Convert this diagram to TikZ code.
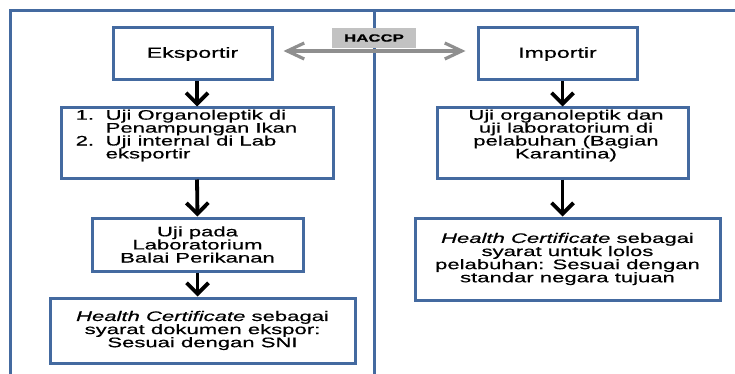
\documentclass[tikz,border=0pt]{standalone}
\usepackage{fontspec}
\setmainfont{Liberation Sans}
\newfontfamily\widefont[FakeStretch=1.6,FakeBold=0.5]{Liberation Sans}
\usetikzlibrary{arrows.meta}
\definecolor{frameblue}{RGB}{68,106,160}
\definecolor{arrowgray}{RGB}{143,143,143}
\definecolor{labelgray}{RGB}{194,194,194}
\newcommand{\tightlines}{\lineskiplimit=-6pt\relax}
\begin{document}
\begin{tikzpicture}[x=1pt,y=-1pt,
  stepbox/.style={draw=frameblue, line width=3pt, fill=white, inner sep=0pt,
    font=\widefont\fontsize{13.8}{13.1}\selectfont\tightlines, align=center},
  bodytext/.style={font=\widefont\fontsize{13.8}{12.9}\selectfont\tightlines, inner sep=0pt},
  flow/.style={line width=3.8pt, black, -{Straight Barb[length=11pt,width=22pt]}},
  twoway/.style={line width=3.2pt, arrowgray,
    {Straight Barb[length=17pt,width=16pt]}-{Straight Barb[length=17pt,width=16pt]}},
  frame/.style={draw=frameblue, line width=3pt}
]
\useasboundingbox (0,0) rectangle (735,374);
% outer frame and divider
\draw[frame] (10.5,374) -- (10.5,11) -- (735,11);
\draw[frame] (374,11) -- (374,374);

% left column
\node[stepbox, minimum width=159pt, minimum height=52pt, font=\widefont\fontsize{14.5}{13}\selectfont] (eks) at (192.5,54) {Eksportir};
\node[stepbox, minimum width=272pt, minimum height=70pt] (l2) at (197,143) {};
\node[bodytext, align=left, anchor=north west] (l2t) at ([xshift=16pt,yshift=-3pt]l2.north west)
  {\makebox[30pt][l]{1.}Uji Organoleptik di\\
   \hspace*{30pt}Penampungan Ikan\\
   \makebox[30pt][l]{2.}Uji internal di Lab\\
   \hspace*{30pt}eksportir};
\node[stepbox, minimum width=211pt, minimum height=53pt] (l3) at (197.5,244.5)
  {Uji pada\\Laboratorium\\Balai Perikanan};
\node[stepbox, minimum width=305pt, minimum height=65pt] (l4) at (202.5,330.5)
  {\textit{Health Certificate} sebagai\\syarat dokumen ekspor:\\Sesuai dengan SNI};

% right column
\node[stepbox, minimum width=159pt, minimum height=52pt, font=\widefont\fontsize{14.5}{13}\selectfont] (imp) at (557.5,54) {Importir};
\node[stepbox, minimum width=251pt, minimum height=70pt] (r2) at (562.5,143) {};
\node[bodytext, align=center, anchor=north] (r2t) at ([xshift=3.5pt,yshift=-3pt]r2.north)
  {Uji organoleptik dan\\uji laboratorium di\\pelabuhan (Bagian\\Karantina)};
\node[stepbox, minimum width=305pt, minimum height=82pt] (r3) at (567.5,259)
  {\textit{Health Certificate} sebagai\\syarat untuk lolos\\pelabuhan: Sesuai dengan\\standar negara tujuan};

% flow arrows
\draw[flow] (l2.north |- eks.south) -- (l2.north);
\draw[flow] (l2.south) -- (l3.north);
\draw[flow] (l3.south) -- (l3.south |- l4.north);
\draw[flow] (r2.north |- imp.south) -- (r2.north);
\draw[flow] (r2.south) -- (r2.south |- r3.north);

% HACCP link
\draw[twoway, shorten <=10pt, shorten >=11pt] ([yshift=3pt]eks.east) -- ([yshift=3pt]imp.west);
\node[fill=labelgray, minimum width=84pt, minimum height=20pt, inner sep=0pt,
  font=\widefont\bfseries\fontsize{10.5}{12}\selectfont] (haccp) at (374,38) {HACCP};
\end{tikzpicture}
\end{document}
